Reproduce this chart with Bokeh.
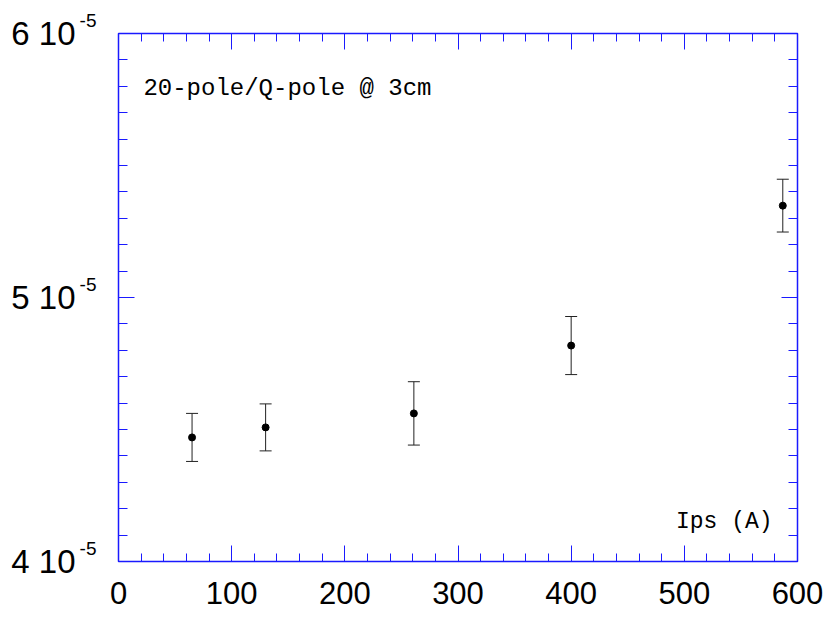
from bokeh.plotting import figure
from bokeh.models import (ColumnDataSource, LinearAxis, SingleIntervalTicker, Whisker,
                          TeeHead, Label, Range1d, CustomJSTickFormatter)
from bokeh.embed import file_html
from bokeh.resources import INLINE

# data
ips = [65, 130, 261, 400, 587]
ratio = [4.470e-5, 4.508e-5, 4.561e-5, 4.818e-5, 5.348e-5]
err = [0.091e-5, 0.089e-5, 0.120e-5, 0.110e-5, 0.100e-5]
y_tick_exponent = -5
note_text = "20-pole/Q-pole @ 3cm"
x_title = "Ips (A)"

src = ColumnDataSource(dict(
    x=ips, y=ratio,
    lo=[r - e for r, e in zip(ratio, err)],
    hi=[r + e for r, e in zip(ratio, err)],
))

BLUE = "#1a1aff"
W, H = 830, 618
p = figure(width=W, height=H, output_backend="svg", toolbar_location=None,
           x_range=Range1d(0, 600), y_range=Range1d(4e-5, 6e-5 * (1 + 1e-9)),
           x_axis_location=None, y_axis_location=None,
           min_border_left=118, min_border_right=33, min_border_top=33, min_border_bottom=57)
p.xgrid.visible = False
p.ygrid.visible = False
p.outline_line_color = BLUE
p.outline_line_width = 1.5
p.background_fill_color = "white"
p.border_fill_color = "white"


def xaxis(labels):
    ax = LinearAxis(ticker=SingleIntervalTicker(interval=100, num_minor_ticks=5))
    ax.major_tick_in = 16
    ax.major_tick_out = 0
    ax.minor_tick_in = 8
    ax.minor_tick_out = 0
    ax.axis_line_color = BLUE
    ax.major_tick_line_color = BLUE
    ax.minor_tick_line_color = BLUE
    if labels:
        ax.major_label_text_font = "Liberation Sans"
        ax.major_label_text_font_size = "31px"
        ax.major_label_text_color = "black"
        ax.major_label_standoff = 20
    else:
        ax.major_label_text_font_size = "1px"
        ax.major_label_text_alpha = 0
        ax.major_label_standoff = 0
    return ax


def yaxis(labels):
    ax = LinearAxis(ticker=SingleIntervalTicker(interval=1e-5, num_minor_ticks=10))
    ax.major_tick_in = 16
    ax.major_tick_out = 0
    ax.minor_tick_in = 9
    ax.minor_tick_out = 0
    ax.axis_line_color = BLUE
    ax.major_tick_line_color = BLUE
    ax.minor_tick_line_color = BLUE
    if labels:
        # exponent part of the tick label, raised like a superscript
        ax.formatter = CustomJSTickFormatter(args=dict(e=y_tick_exponent),
                                             code="return String(e) + '\\n ';")
        ax.major_label_text_font = "Liberation Sans"
        ax.major_label_text_font_size = "19px"
        ax.major_label_text_color = "black"
        ax.major_label_text_baseline = "middle"
        ax.major_label_standoff = 22
    else:
        ax.major_label_text_font_size = "1px"
        ax.major_label_text_alpha = 0
        ax.major_label_standoff = 0
    return ax


def ymantissa_axis():
    ax = LinearAxis(ticker=SingleIntervalTicker(interval=1e-5, num_minor_ticks=0))
    ax.formatter = CustomJSTickFormatter(args=dict(e=y_tick_exponent), code="""
        return Math.round(tick / Math.pow(10, e)) + ' 10';
    """)
    ax.axis_line_color = None
    ax.major_tick_line_color = None
    ax.minor_tick_line_color = None
    ax.major_tick_out = 0
    ax.major_tick_in = 0
    ax.major_label_text_font = "Liberation Sans"
    ax.major_label_text_font_size = "33px"
    ax.major_label_text_color = "black"
    ax.major_label_standoff = 1
    return ax


p.add_layout(xaxis(True), "below")
p.add_layout(xaxis(False), "above")
p.add_layout(yaxis(True), "left")
p.add_layout(ymantissa_axis(), "left")
p.add_layout(yaxis(False), "right")

# error bars
p.add_layout(Whisker(source=src, base="x", lower="lo", upper="hi", dimension="height",
                     line_color="#222222", line_width=1,
                     upper_head=TeeHead(size=12, line_color="#222222", line_width=1),
                     lower_head=TeeHead(size=12, line_color="#222222", line_width=1)))
p.scatter("x", "y", source=src, size=7, color="black")

p.add_layout(Label(x=22, y=5.792e-5, text=note_text, text_font="Liberation Mono",
                   text_font_size="24px", text_color="black", text_baseline="alphabetic"))
p.add_layout(Label(x=578, y=4.148e-5, text=x_title, text_font="Liberation Mono",
                   text_font_size="23px", text_color="black", text_align="right",
                   text_baseline="alphabetic"))

open("out.html", "w").write(file_html(p, INLINE))
